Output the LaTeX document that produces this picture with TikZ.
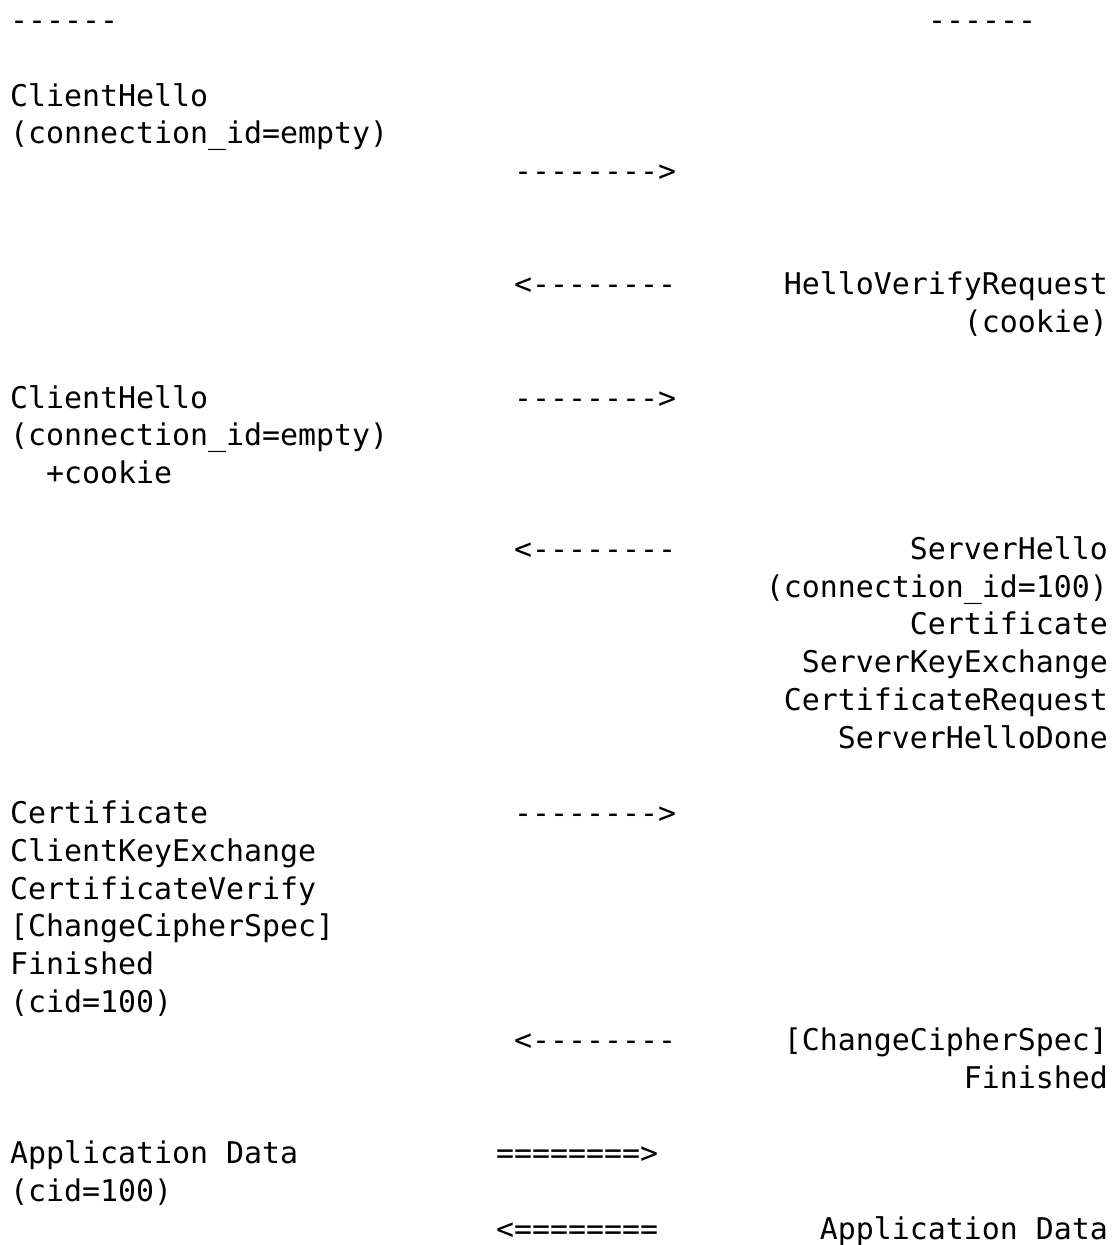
\documentclass[tikz,border=0pt]{standalone}
\usepackage{fontspec}
\setmonofont{DejaVu Sans Mono}
\usepackage{tikz}

\tikzset{
  txt/.style={inner sep=0pt, font=\ttfamily\fontsize{29.9}{37.77}\selectfont},
  lft/.style={txt, anchor=base west},
  rgt/.style={txt, anchor=base east}
}

\begin{document}
\begin{tikzpicture}[x=18pt, y=-37.77pt]
\useasboundingbox (-10pt,106pt) rectangle (1102pt,-1139pt);

% column rules
\node[lft] (cline) at (0,-2) {------};
\node[lft] (sline) at (51,-2) {------};

% first ClientHello
\node[lft] (chA) at (0,0) {ClientHello};
\node[lft] (chAid) at (0,1) {(connection\_id=empty)};
\node[lft] (arA) at (28,2) {-------->};

\node[lft] (arB) at (28,5) {<--------};
\node[rgt] (hvr) at (61,5) {HelloVerifyRequest};
\node[rgt] (hvrck) at (61,6) {(cookie)};

% second ClientHello
\node[lft] (chB) at (0,8) {ClientHello};
\node[lft] (arC) at (28,8) {-------->};
\node[lft] (chBid) at (0,9) {(connection\_id=empty)};
\node[lft] (chBck) at (2,10) {+cookie};

% server flight
\node[lft] (arD) at (28,12) {<--------};
\node[rgt] (sh) at (61,12) {ServerHello};
\node[rgt] (shid) at (61,13) {(connection\_id=100)};
\node[rgt] (scert) at (61,14) {Certificate};
\node[rgt] (ske) at (61,15) {ServerKeyExchange};
\node[rgt] (creq) at (61,16) {CertificateRequest};
\node[rgt] (shd) at (61,17) {ServerHelloDone};

% client flight
\node[lft] (ccert) at (0,19) {Certificate};
\node[lft] (arE) at (28,19) {-------->};
\node[lft] (cke) at (0,20) {ClientKeyExchange};
\node[lft] (cver) at (0,21) {CertificateVerify};
\node[lft] (cccs) at (0,22) {[ChangeCipherSpec]};
\node[lft] (cfin) at (0,23) {Finished};
\node[lft] (ccid) at (0,24) {(cid=100)};

\node[lft] (arF) at (28,25) {<--------};
\node[rgt] (sccs) at (61,25) {[ChangeCipherSpec]};
\node[rgt] (sfin) at (61,26) {Finished};

% application data
\node[lft] (cad) at (0,28) {Application Data};
\node[lft] (arG) at (27,28) {========>};
\node[lft] (cadid) at (0,29) {(cid=100)};
\node[lft] (arH) at (27,30) {<========};
\node[rgt] (sad) at (61,30) {Application Data};
\end{tikzpicture}
\end{document}
